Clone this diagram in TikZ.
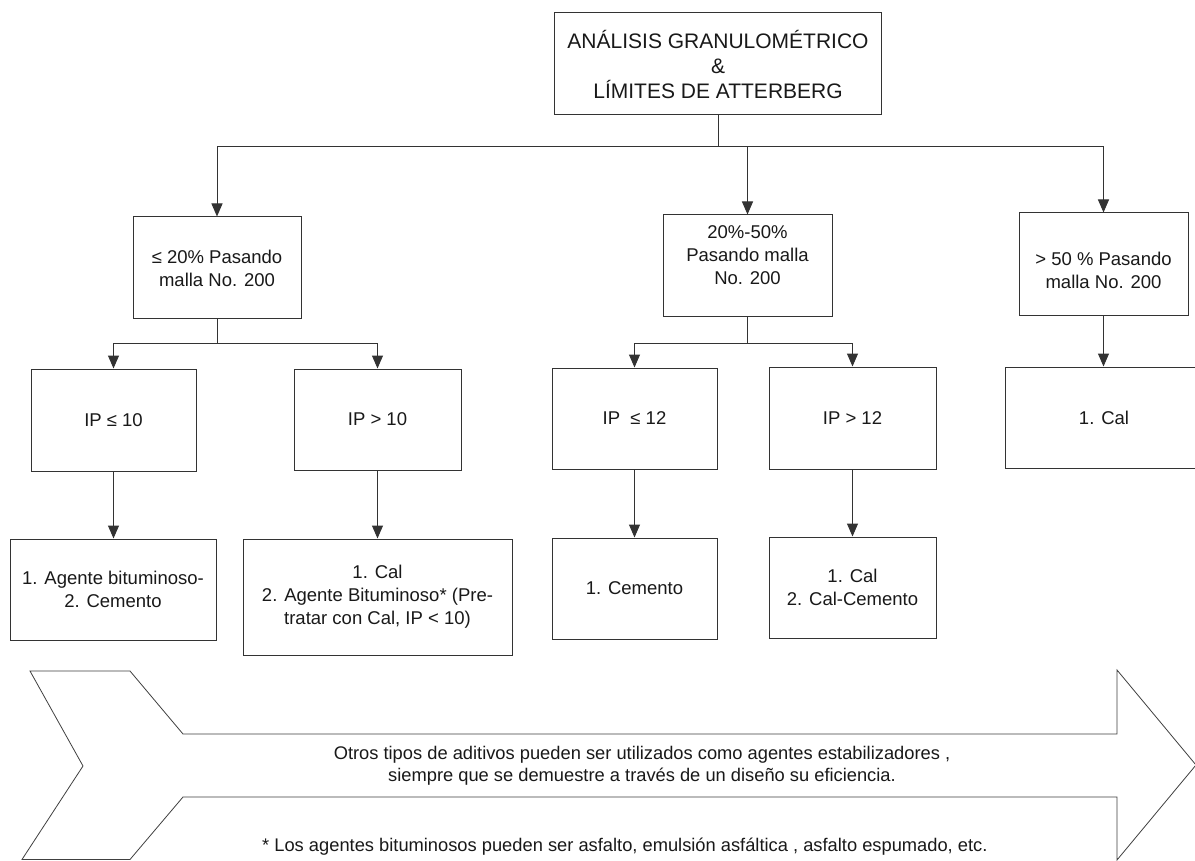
\documentclass[tikz,border=0pt]{standalone}
\usepackage{fontspec}
\setmainfont{Liberation Sans}
\usetikzlibrary{arrows.meta}
\begin{document}
\begin{tikzpicture}[x=1pt,y=-1pt,
  ln/.style={draw=black!80, line width=1pt},
  boxtxt/.style={align=center, inner sep=0pt, font=\fontsize{18.5}{23}\selectfont, text=black!90},
  box/.style={draw=black!80, line width=1pt, boxtxt},
  arr/.style={ln, -{Triangle[width=11pt,length=13pt]}},
  note/.style={inner sep=0pt, font=\fontsize{18.3}{22}\selectfont, text=black!90},
]
\useasboundingbox (0,0) rectangle (1195,861);
\fill[white] (0,0) rectangle (1195,861);
\clip (0,0) rectangle (1195,861);

% top
\node[box, minimum width=327, minimum height=102, font=\fontsize{21}{25}\selectfont] (top) at (718,64)
  {ANÁLISIS GRANULOMÉTRICO\\\&\\LÍMITES DE ATTERBERG};

% level 2
\node[box, minimum width=168, minimum height=102] (A) at (217,268) {≤ 20\% Pasando\\malla No. 200};
\node[box, minimum width=169, minimum height=102,
  label={[boxtxt, yshift=10.5pt]center:20\%-50\%\\Pasando malla\\No. 200}] (B) at (747.5,266) {};
\node[box, minimum width=169, minimum height=103,
  label={[boxtxt, yshift=-5.5pt]center:> 50 \% Pasando\\malla No. 200}] (C) at (1103.5,264.5) {};

% level 3
\node[box, minimum width=165, minimum height=102] (A1) at (113.5,420) {IP ≤ 10};
\node[box, minimum width=167, minimum height=101] (A2) at (377.5,419.5) {IP > 10};
\node[box, minimum width=165, minimum height=101] (B1) at (634.5,418.5) {IP \ ≤ 12};
\node[box, minimum width=167, minimum height=102] (B2) at (852.5,418) {IP > 12};
\node[box, minimum width=198, minimum height=101] (C1) at (1104,417.5) {1. Cal};

% level 4
\node[box, minimum width=206, minimum height=101] (D1) at (113,589.5) {1. Agente bituminoso-\\2. Cemento};
\node[box, minimum width=269, minimum height=116] (D2) at (377.5,597) {1. Cal\\2. Agente Bituminoso* (Pre-\\tratar con Cal, IP < 10)};
\node[box, minimum width=165, minimum height=101] (D3) at (634.5,588.5) {1. Cemento};
\node[box, minimum width=167, minimum height=101] (D4) at (852.5,587.5) {1. Cal\\2. Cal-Cemento};

% connectors
\coordinate (j0) at (718,147);
\draw[ln] (top.south) -- (j0);
\draw[arr] (j0) -| (A.north);
\draw[arr] (j0) -| (C.north);
\draw[arr] (B.north |- j0) -- (B.north);

\path (A.south) ++(0,24) coordinate (jA);
\draw[ln] (A.south) -- (jA);
\draw[arr] (jA) -| (A1.north);
\draw[arr] (jA) -| (A2.north);

\path (B.south) ++(0,26) coordinate (jB);
\draw[ln] (B.south) -- (jB);
\draw[arr] (jB) -| (B1.north);
\draw[arr] (jB) -| (B2.north);

\draw[arr] (C.south) -- (C.south |- C1.north);
\draw[arr] (A1.south) -- (A1.south |- D1.north);
\draw[arr] (A2.south) -- (A2.south |- D2.north);
\draw[arr] (B1.south) -- (B1.south |- D3.north);
\draw[arr] (B2.south) -- (B2.south |- D4.north);

% big arrow shape
\draw[line width=0.8pt, draw=black!75, line join=miter]
  (30,671) -- (130,671) -- (183,734) -- (1117,734) -- (1117,670) -- (1196,765)
  -- (1117,860) -- (1117,797) -- (183,797) -- (130,859.5) -- (22,859.5) -- (83,766) -- cycle;

\node[note, align=center] (note1) at (642,766)
  {Otros tipos de aditivos pueden ser utilizados como agentes estabilizadores ,\\siempre que se demuestre a través de un diseño su eficiencia.};
\node[note, anchor=west] (note2) at (262,847)
  {* Los agentes bituminosos pueden ser asfalto, emulsión asfáltica , asfalto espumado, etc.};
\end{tikzpicture}
\end{document}
